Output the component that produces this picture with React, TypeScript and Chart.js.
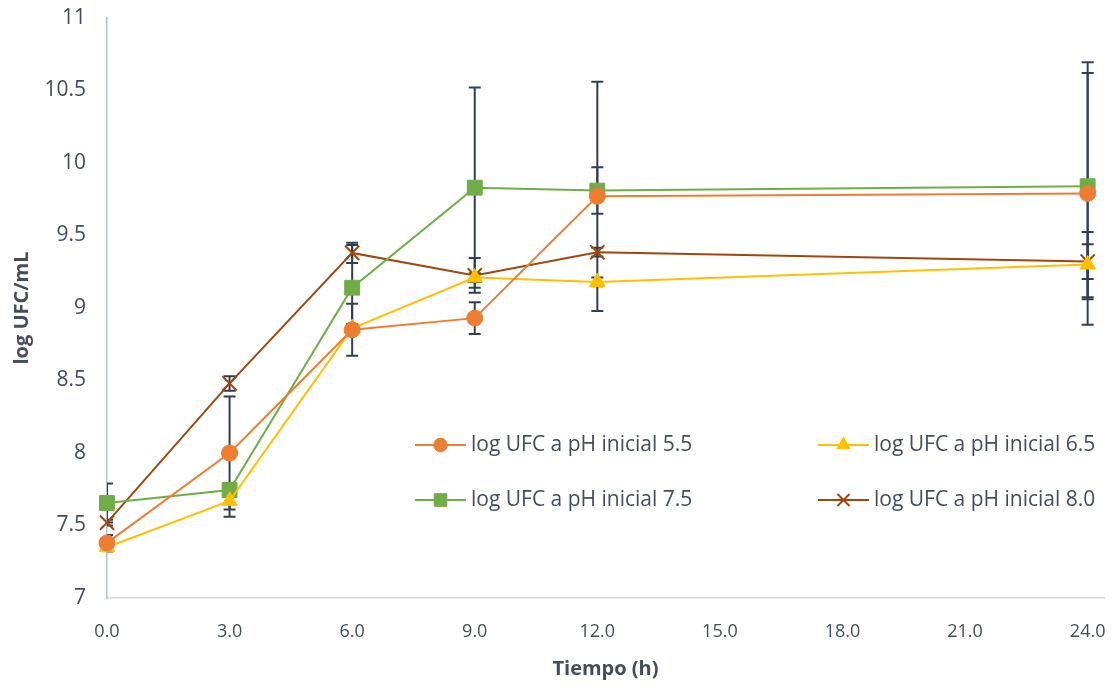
import React, { useEffect, useRef } from "react";
import { Chart, registerables } from "chart.js";
import * as helpers from "chart.js/helpers";

Chart.register(...registerables);

const times = [0, 3, 6, 9, 12, 24];
const xTickValues = [0, 3, 6, 9, 12, 15, 18, 21, 24];
const yTickValues = [7, 7.5, 8, 8.5, 9, 9.5, 10, 10.5, 11];

const ph55 = [7.38, 8.0, 8.85, 8.93, 9.77, 9.79];
const ph55Err = [0.055, 0.39, 0.18, 0.11, 0.79, 0.905];
const ph65 = [7.35, 7.67, 8.86, 9.21, 9.18, 9.3];
const ph65Err = [0.03, 0.11, 0.03, 0.03, 0.03, 0.225];
const ph75 = [7.655, 7.745, 9.14, 9.83, 9.81, 9.84];
const ph75Err = [0.135, 0.045, 0.295, 0.69, 0.16, 0.78];
const ph80 = [7.52, 8.48, 9.38, 9.225, 9.385, 9.32];
const ph80Err = [0.02, 0.05, 0.07, 0.12, 0.03, 0.12];

const seriesLabels = [
  "log UFC a pH inicial 5.5",
  "log UFC a pH inicial 6.5",
  "log UFC a pH inicial 7.5",
  "log UFC a pH inicial 8.0",
];
const seriesColors = ["#ED7D31", "#FFC000", "#70AD47", "#9E480E"];
const seriesStyles = ["circle", "triangle", "rect", "crossRot"];
const seriesRadius = [8, 9, 10.5, 10];
const seriesValues = [ph55, ph65, ph75, ph80];
const seriesErrors = [ph55Err, ph65Err, ph75Err, ph80Err];

const TEXT = "#434d5c";
const FONT = "'Open Sans', 'Noto Sans', sans-serif";

const errorBarPlugin = {
  id: "errorBars",
  beforeDatasetsDraw(chart: any) {
    const { ctx, chartArea } = chart;
    const xs = chart.scales.x;
    const ys = chart.scales.y;
    ctx.save();
    ctx.beginPath();
    ctx.rect(chartArea.left, chartArea.top - 2, chartArea.right - chartArea.left, chartArea.bottom - chartArea.top + 4);
    ctx.clip();
    ctx.strokeStyle = "#333F50";
    ctx.lineWidth = 2;
    chart.data.datasets.forEach((ds: any, di: number) => {
      const errs = seriesErrors[di];
      ds.data.forEach((p: any, i: number) => {
        const x = xs.getPixelForValue(p.x);
        const yTop = ys.getPixelForValue(p.y + errs[i]);
        const yBot = ys.getPixelForValue(p.y - errs[i]);
        ctx.beginPath();
        ctx.moveTo(x, yTop);
        ctx.lineTo(x, yBot);
        ctx.moveTo(x - 6, yTop);
        ctx.lineTo(x + 6, yTop);
        ctx.moveTo(x - 6, yBot);
        ctx.lineTo(x + 6, yBot);
        ctx.stroke();
      });
    });
    ctx.restore();
  },
};

const legendPlugin = {
  id: "innerLegend",
  afterDraw(chart: any) {
    const { ctx } = chart;
    const positions = [
      [415, 445],
      [818, 445],
      [415, 500],
      [818, 500],
    ];
    ctx.save();
    seriesLabels.forEach((label, i) => {
      const [x0, y0] = positions[i];
      ctx.strokeStyle = seriesColors[i];
      ctx.lineWidth = 2;
      ctx.beginPath();
      ctx.moveTo(x0, y0);
      ctx.lineTo(x0 + 51, y0);
      ctx.stroke();
      ctx.fillStyle = seriesColors[i];
      ctx.strokeStyle = seriesColors[i];
      ctx.lineWidth = seriesStyles[i] === "crossRot" ? 2 : 1;
      helpers.drawPoint(
        ctx,
        { pointStyle: seriesStyles[i], radius: seriesRadius[i] * 0.85, borderWidth: ctx.lineWidth, rotation: 0 },
        x0 + 25.5,
        y0
      );
      ctx.fillStyle = TEXT;
      ctx.font = `21px ${FONT}`;
      ctx.textAlign = "left";
      ctx.textBaseline = "middle";
      ctx.fillText(label, x0 + 56, y0);
    });
    ctx.restore();
  },
};

export default function App() {
  const canvasRef = useRef<HTMLCanvasElement | null>(null);

  useEffect(() => {
    document.body.style.margin = "0";
    const canvas = canvasRef.current;
    if (!canvas) return;
    const chart = new Chart(canvas, {
      type: "line",
      data: {
        datasets: seriesValues.map((vals, i) => ({
          label: seriesLabels[i],
          data: vals.map((v, j) => ({ x: times[j], y: v })),
          borderColor: seriesColors[i],
          backgroundColor: seriesColors[i],
          pointBorderColor: seriesColors[i],
          pointBackgroundColor: seriesColors[i],
          borderWidth: 2,
          pointStyle: seriesStyles[i] as any,
          pointRadius: seriesRadius[i],
          pointBorderWidth: seriesStyles[i] === "crossRot" ? 2 : 1,
          tension: 0,
          fill: false,
          clip: false as any,
        })),
      },
      options: {
        responsive: false,
        animation: false,
        layout: { padding: { left: 0, right: 10, top: 18, bottom: 0 } },
        plugins: {
          legend: { display: false },
          tooltip: { enabled: false },
        },
        scales: {
          x: {
            type: "linear",
            min: 0,
            max: 24.4,
            afterBuildTicks: (scale: any) => {
              scale.ticks = xTickValues.map((v) => ({ value: v }));
            },
            afterFit: (scale: any) => {
              scale.height = 86;
              scale.paddingLeft = 0;
              scale.paddingRight = 0;
            },
            grid: { display: false, drawTicks: false },
            border: { display: true, color: "#D9D9D9", width: 1.5 },
            ticks: {
              color: TEXT,
              font: { family: FONT, size: 18 },
              padding: 23,
              maxRotation: 0,
              callback: (v: any) => Number(v).toFixed(1),
            },
            title: {
              display: true,
              text: "Tiempo (h)",
              color: TEXT,
              font: { family: FONT, size: 20, weight: "bold" },
              padding: { top: 8, bottom: 3 },
            },
          },
          y: {
            type: "linear",
            min: 7,
            max: 11,
            afterBuildTicks: (scale: any) => {
              scale.ticks = yTickValues.map((v) => ({ value: v }));
            },
            afterFit: (scale: any) => {
              scale.width = 107;
              scale.paddingTop = 0;
              scale.paddingBottom = 0;
            },
            grid: { display: false, drawTicks: false },
            border: { display: true, color: "#B4C0D0", width: 1.5 },
            ticks: {
              color: TEXT,
              font: { family: FONT, size: 21 },
              padding: 21,
              callback: (v: any) => String(v),
            },
            title: {
              display: true,
              text: "log UFC/mL",
              color: TEXT,
              font: { family: FONT, size: 20, weight: "bold" },
              padding: { top: 10, bottom: 4 },
            },
          },
        },
      },
      plugins: [errorBarPlugin, legendPlugin],
    });
    return () => chart.destroy();
  }, []);

  return (
    <div style={{ width: 1116, height: 684, background: "#fff" }}>
      <canvas ref={canvasRef} width={1116} height={684} style={{ display: "block" }} />
    </div>
  );
}
